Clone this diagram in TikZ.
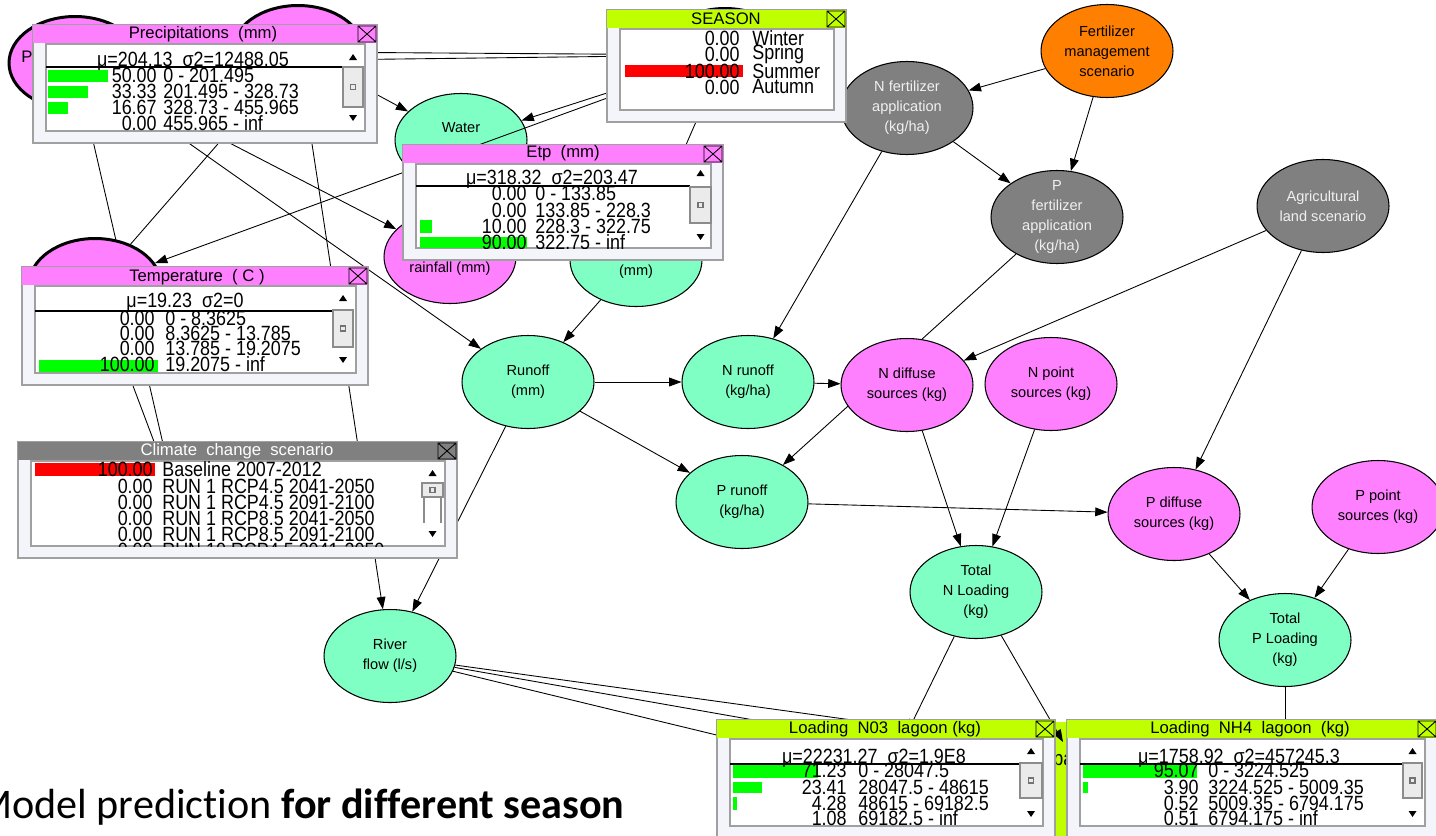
\documentclass[tikz,border=0pt]{standalone}
\usepackage{fontspec}
\setmainfont{Liberation Sans}
\newfontfamily\capfont[Ligatures={NoCommon}]{Carlito}
\usetikzlibrary{arrows.meta,shapes.geometric}
\pgfdeclarelayer{background}
\pgfsetlayers{background,main}

\definecolor{nodepink}{RGB}{255,128,255}
\definecolor{nodegreen}{RGB}{128,255,196}
\definecolor{nodegray}{RGB}{128,128,128}
\definecolor{nodeorange}{RGB}{255,128,0}
\definecolor{barlime}{RGB}{192,255,0}
\definecolor{bargreen}{RGB}{0,255,0}
\definecolor{framebg}{RGB}{243,245,250}
\definecolor{framegray}{RGB}{160,160,160}

\tikzset{
  bnode/.style={ellipse, draw=black, line width=0.6pt, minimum width=2.64cm,
    minimum height=1.86cm, inner sep=-4pt, align=center,
    font=\fontsize{8.3}{11.3}\selectfont},
  pinknode/.style={bnode, fill=nodepink},
  greennode/.style={bnode, fill=nodegreen},
  graynode/.style={bnode, fill=nodegray, text=white!94!black},
  hidnode/.style={bnode, fill=nodepink, line width=1.7pt},
  link/.style={draw=black, line width=0.5pt, -{Triangle[length=7pt,width=5pt]}},
  rowtxt/.style={inner sep=0pt, font=\fontsize{10.2}{12}\selectfont},
  titletxt/.style={inner sep=0pt, font=\fontsize{9.5}{11}\selectfont},
}

% monitor window: x1, y1, x2, y2, title colour
\newcommand{\monframe}[5]{%
  \filldraw[fill=framebg, draw=framegray, line width=0.8pt] (#1,#2) rectangle (#3,#4);
  \fill[#5] (#1,#2) rectangle (#3,#2+18);
  \filldraw[fill=white, draw=framegray, line width=0.8pt] (#1+13,#2+19) rectangle (#3-12,#4-12);
  \draw[line width=0.5pt] (#3-19,#2+1) rectangle (#3-1,#2+17)
    (#3-19,#2+1) -- (#3-1,#2+17) (#3-19,#2+17) -- (#3-1,#2+1);}

% scroll bar: x left, x right, up arrow, thumb top, thumb bottom, down arrow
\newcommand{\monscroll}[6]{%
  \fill ({(#1+#2)/2-4},#3+3) -- ({(#1+#2)/2+4},#3+3) -- ({(#1+#2)/2},#3-3) -- cycle;
  \filldraw[fill=black!8, draw=black!45, line width=0.8pt] (#1,#4) rectangle (#2,#5);
  \draw[black!55, line width=0.6pt] ({(#1+#2)/2-2.5},{(#4+#5)/2-2.5}) rectangle ({(#1+#2)/2+2.5},{(#4+#5)/2+2.5});
  \fill ({(#1+#2)/2-4},#6-3) -- ({(#1+#2)/2+4},#6-3) -- ({(#1+#2)/2},#6+3) -- cycle;}

% one state row: name, x of value end, x of state start, y, value, state
\newcommand{\rowpair}[6]{%
  \node[rowtxt, anchor=east] (#1n) at (#2,#4) {\scalebox{1}[1.15]{#5}};
  \node[rowtxt, anchor=west] (#1s) at (#3,#4) {\scalebox{1}[1.15]{#6}};}

\begin{document}
\begin{tikzpicture}[x=0.02cm, y=-0.02cm]
\useasboundingbox (0,0) rectangle (1436,835);
\clip (0,0) rectangle (1436,835);

% nodes hidden under the monitor windows
\node[hidnode] (precipA) at (75,63) {};
\node[inner sep=0pt, anchor=west, font=\fontsize{9.5}{11}\selectfont] (precipAtxt) at (21,57) {P};
\node[hidnode] (precipB) at (298,52) {};
\node[hidnode] (temp) at (95,285) {};
\node[hidnode, fill=barlime] (season) at (725,55) {};
\node[bnode, fill=nodegray] (climate) at (176,500) {};
\node[greennode] (no3) at (886,776) {};
\node[greennode] (nh4) at (1285,780) {};
\node[fill=barlime, minimum width=1.6cm, minimum height=2.32cm, inner sep=0pt] (lagoon) at (1095,780) {};
\node[rowtxt, anchor=west] (lagoontxt) at (1053,762) {\scalebox{1}[1.15]{pa}};
\coordinate (ntip) at (1063,742);

% hydrology
\node[greennode] (water) at (461,140) {Water\\\strut};
\node[pinknode] (rain) at (450,257) {\strut\\rainfall (mm)};
\node[greennode] (etp) at (636,260) {\strut\\(mm)};
\node[greennode] (runoff) at (528,382) {Runoff\\(mm)};
\node[greennode] (river) at (390,656) {River\\flow (l/s)};

% nutrients
\node[bnode, fill=nodeorange] (fman) at (1107,51) {Fertilizer\\management\\scenario};
\node[graynode] (nfert) at (907,108) {N fertilizer\\application\\(kg/ha)};
\node[graynode] (pfert) at (1057,217) {P\\fertilizer\\application\\(kg/ha)};
\node[graynode] (agri) at (1323,206) {Agricultural\\land scenario};
\node[greennode] (nrun) at (748,382) {N runoff\\(kg/ha)};
\node[greennode] (prun) at (742,502) {P runoff\\(kg/ha)};
\node[pinknode] (ndif) at (907,385) {N diffuse\\sources (kg)};
\node[pinknode] (npt) at (1051,384) {N point\\sources (kg)};
\node[pinknode] (pdif) at (1174,514) {P diffuse\\sources (kg)};
\node[pinknode] (ppt) at (1378,507) {P point\\sources (kg)};
\node[greennode] (totn) at (976,592) {Total\\N Loading\\(kg)};
\node[greennode] (totp) at (1285,640) {Total\\P Loading\\(kg)};

% links
\begin{pgfonlayer}{background}
\fill[white] (0,0) rectangle (1436,835);
\draw[link] (climate) -- (precipA);
\draw[link] (climate) -- (temp);
\draw[link] (temp) -- (precipB);
\draw[link] (season) -- (precipA);
\draw[link] (season) -- (precipB);
\draw[link] (precipA) -- (rain);
\draw[link] (precipA) -- (runoff);
\draw[link] (precipB) -- (water);
\draw[link] (precipB) -- (river);
\draw[link] (season) -- (water);
\draw[link] (season) -- (etp);
\draw[link] (etp) -- (runoff);
\draw[link] (runoff) -- (river);
\draw[link] (runoff) -- (nrun);
\draw[link] (runoff) -- (prun);
\draw[link] (fman) -- (nfert);
\draw[link] (fman) -- (pfert);
\draw[link] (nfert) -- (pfert);
\draw[link] (nfert) -- (nrun);
\draw[link] (pfert) -- (prun);
\draw[link] (agri) -- (ndif);
\draw[link] (agri) -- (pdif);
\draw[link] (nrun) -- (ndif);
\draw[link] (prun) -- (pdif);
\draw[link] (ndif) -- (totn);
\draw[link] (npt) -- (totn);
\draw[link] (pdif) -- (totp);
\draw[link] (ppt) -- (totp);
\draw[link] (totn) -- (no3);
\draw[link] (totp) -- (nh4);
\draw[link] (river) -- (no3);
\draw[link] (river) -- (lagoon);
\draw[link] (river) -- (nh4);
\end{pgfonlayer}
\draw[link] (season) -- (temp);
\draw[link] (totn) -- (ntip);

% Precipitations window
\monframe{33}{25}{377}{143}{nodepink}
\node[titletxt] (prtitle) at (203,34) {Precipitations\ \ (mm)};
\begin{scope}
\clip (46,44) rectangle (365,131);
\fill[bargreen] (48,70) rectangle (108,82);
\fill[bargreen] (48,86) rectangle (88,98);
\fill[bargreen] (48,102) rectangle (68,114);
\node[rowtxt] (prhead) at (193,61) {\scalebox{1}[1.15]{μ=204.13\ \ σ2=12488.05}};
\draw[line width=0.6pt] (46,67) -- (343,67);
\rowpair{pr1}{157}{163}{75}{50.00}{0 - 201.495}
\rowpair{pr2}{157}{163}{91}{33.33}{201.495 - 328.73}
\rowpair{pr3}{157}{163}{107}{16.67}{328.73 - 455.965}
\rowpair{pr4}{157}{163}{123}{0.00}{455.965 - inf}
\end{scope}
\monscroll{343}{363}{57}{67}{107}{118}

% SEASON window
\monframe{607}{10}{846}{122}{barlime}
\node[titletxt] (setitle) at (726,19) {SEASON};
\begin{scope}
\clip (620,29) rectangle (834,110);
\fill[red] (625,65) rectangle (743,77);
\rowpair{se1}{740}{752}{38}{0.00}{Winter}
\rowpair{se2}{740}{752}{54}{0.00}{Spring}
\rowpair{se3}{740}{752}{71}{100.00}{Summer}
\rowpair{se4}{740}{752}{87}{0.00}{Autumn}
\end{scope}

% Temperature window
\monframe{22}{267}{368}{385}{nodepink}
\node[titletxt] (tetitle) at (197,277) {Temperature\ \ (\ C\ )};
\begin{scope}
\clip (35,286) rectangle (356,373);
\fill[bargreen] (39,360) rectangle (158,372);
\node[rowtxt] (tehead) at (185,302) {\scalebox{1}[1.15]{μ=19.23\ \ σ2=0}};
\draw[line width=0.6pt] (35,311) -- (333,311);
\rowpair{te1}{155}{165}{318}{0.00}{0 - 8.3625}
\rowpair{te2}{155}{165}{333}{0.00}{8.3625 - 13.785}
\rowpair{te3}{155}{165}{348}{0.00}{13.785 - 19.2075}
\rowpair{te4}{155}{165}{364}{100.00}{19.2075 - inf}
\end{scope}
\monscroll{333}{353}{298}{310}{347}{360}

% Climate change scenario window
\monframe{18}{442}{457}{558}{nodegray}
\node[titletxt, text=white] (cctitle) at (237,451) {Climate\ \ change\ \ scenario};
\begin{scope}
\clip (31,461) rectangle (445,546);
\fill[red] (35,463) rectangle (155,476);
\rowpair{cc1}{153}{162}{469}{100.00}{Baseline 2007-2012}
\rowpair{cc2}{153}{162}{486}{0.00}{RUN 1 RCP4.5 2041-2050}
\rowpair{cc3}{153}{162}{502}{0.00}{RUN 1 RCP4.5 2091-2100}
\rowpair{cc4}{153}{162}{518}{0.00}{RUN 1 RCP8.5 2041-2050}
\rowpair{cc5}{153}{162}{534}{0.00}{RUN 1 RCP8.5 2091-2100}
\rowpair{cc6}{153}{162}{550}{0.00}{RUN 10 RCP4.5 2041-2050}
\end{scope}
\draw[black!45, line width=0.8pt] (424,497) -- (424,523) (441,497) -- (441,523);
\monscroll{422}{443}{473}{483}{497}{534}

% Etp window
\monframe{403}{145}{723}{260}{nodepink}
\node[titletxt] (ettitle) at (563,153) {Etp\ \ (mm)};
\begin{scope}
\clip (416,164) rectangle (711,248);
\fill[bargreen] (420,220) rectangle (432,233);
\fill[bargreen] (420,237) rectangle (527,248);
\node[rowtxt] (ethead) at (552,179) {\scalebox{1}[1.15]{μ=318.32\ \ σ2=203.47}};
\draw[line width=0.6pt] (416,186) -- (690,186);
\rowpair{et1}{527}{535}{193}{0.00}{0 - 133.85}
\rowpair{et2}{527}{535}{210}{0.00}{133.85 - 228.3}
\rowpair{et3}{527}{535}{226}{10.00}{228.3 - 322.75}
\rowpair{et4}{527}{535}{242}{90.00}{322.75 - inf}
\end{scope}
\monscroll{690}{711}{173}{187}{223}{237}

% Loading N03 lagoon window
\monframe{717}{720}{1055}{838}{barlime}
\node[titletxt] (notitle) at (885,729) {Loading\ \ N03\ \ lagoon (kg)};
\begin{scope}
\clip (730,739) rectangle (1043,826);
\fill[bargreen] (733,765) rectangle (818,778);
\fill[bargreen] (733,782) rectangle (762,793);
\fill[bargreen] (733,797) rectangle (737,810);
\node[rowtxt] (nohead) at (874,758) {\scalebox{1}[1.15]{μ=22231.27\ \ σ2=1.9E8}};
\draw[line width=0.6pt] (730,764) -- (1020,764);
\rowpair{no1}{847}{858}{770}{71.23}{0 - 28047.5}
\rowpair{no2}{847}{858}{787}{23.41}{28047.5 - 48615}
\rowpair{no3}{847}{858}{803}{4.28}{48615 - 69182.5}
\rowpair{no4}{847}{858}{818}{1.08}{69182.5 - inf}
\end{scope}
\monscroll{1020}{1042}{751}{763}{798}{814}

% Loading NH4 lagoon window
\monframe{1067}{720}{1437}{838}{barlime}
\node[titletxt] (nhtitle) at (1250,729) {Loading\ \ NH4\ \ lagoon\ \ (kg)};
\begin{scope}
\clip (1080,739) rectangle (1425,826);
\fill[bargreen] (1083,765) rectangle (1197,778);
\fill[bargreen] (1083,782) rectangle (1088,793);
\node[rowtxt] (nhhead) at (1239,758) {\scalebox{1}[1.15]{μ=1758.92\ \ σ2=457245.3}};
\draw[line width=0.6pt] (1080,764) -- (1403,764);
\rowpair{nh1}{1199}{1208}{770}{95.07}{0 - 3224.525}
\rowpair{nh2}{1199}{1208}{787}{3.90}{3224.525 - 5009.35}
\rowpair{nh3}{1199}{1208}{803}{0.52}{5009.35 - 6794.175}
\rowpair{nh4}{1199}{1208}{818}{0.51}{6794.175 - inf}
\end{scope}
\monscroll{1403}{1422}{751}{763}{798}{814}

% caption
\node[anchor=base east, inner sep=0pt, font=\capfont\fontsize{24}{28}\selectfont] (caption) at (625,818) {Model prediction \textbf{for different season}};
\end{tikzpicture}
\end{document}
